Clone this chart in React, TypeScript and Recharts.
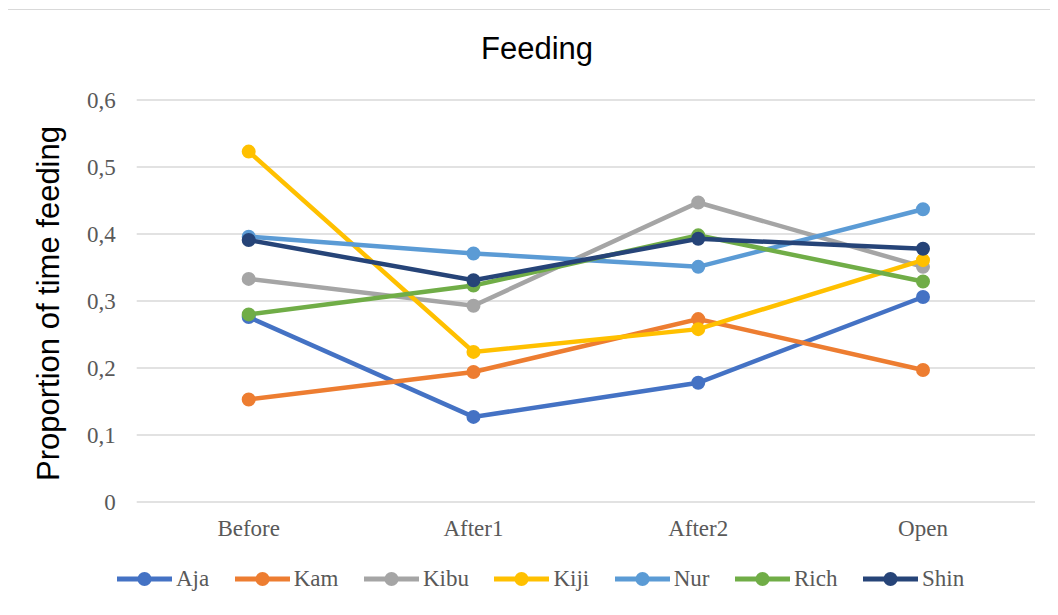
import { LineChart, Line, XAxis, YAxis, CartesianGrid } from 'recharts'

// categories on the x axis
const phases = ['Before', 'After1', 'After2', 'Open']

// proportion of time feeding, one list per individual
const aja = [0.276, 0.127, 0.178, 0.306]
const kam = [0.153, 0.194, 0.273, 0.197]
const kibu = [0.333, 0.293, 0.447, 0.351]
const kiji = [0.523, 0.224, 0.258, 0.361]
const nur = [0.396, 0.371, 0.351, 0.437]
const rich = [0.280, 0.323, 0.398, 0.329]
const shin = [0.391, 0.331, 0.393, 0.378]

const yTicks = [0, 0.1, 0.2, 0.3, 0.4, 0.5, 0.6]

const series = [
  { key: 'Aja', values: aja, color: '#4472C4' },
  { key: 'Kam', values: kam, color: '#ED7D31' },
  { key: 'Kibu', values: kibu, color: '#A5A5A5' },
  { key: 'Kiji', values: kiji, color: '#FFC000' },
  { key: 'Nur', values: nur, color: '#5B9BD5' },
  { key: 'Rich', values: rich, color: '#70AD47' },
  { key: 'Shin', values: shin, color: '#264478' },
]

const data = phases.map((phase, i) => {
  const row: { [k: string]: string | number } = { phase }
  series.forEach((s) => {
    row[s.key] = s.values[i]
  })
  return row
})

const fmt = (v: number) => (v === 0 ? '0' : v.toFixed(1).replace('.', ','))

const serif = '"Liberation Serif", "Times New Roman", serif'
const sans = '"Liberation Sans", Arial, sans-serif'

export default function App() {
  return (
    <div
      style={{
        position: 'relative',
        left: -1,
        top: 1,
        width: 1050,
        height: 605,
        borderTop: '1px solid #d9d9d9',
        borderLeft: '1px solid #d9d9d9',
      }}
    >
      <div
        style={{
          position: 'absolute',
          left: 329,
          top: 23,
          width: 400,
          textAlign: 'center',
          fontFamily: sans,
          fontSize: 31,
          lineHeight: '31px',
          color: '#000',
        }}
      >
        Feeding
      </div>

      <LineChart
        width={1050}
        height={605}
        data={data}
        margin={{ top: 90, right: 23, left: 0, bottom: 73 }}
      >
        <CartesianGrid vertical={false} stroke="#d9d9d9" strokeWidth={1.5} />
        <XAxis
          dataKey="phase"
          height={40}
          padding={{ left: 112, right: 112 }}
          axisLine={false}
          tickLine={false}
          tickSize={0}
          tickMargin={18}
          tick={{ fontFamily: serif, fontSize: 23, fill: '#595959' }}
        />
        <YAxis
          width={128.7}
          domain={[0, 0.6]}
          ticks={yTicks}
          tickFormatter={fmt}
          axisLine={false}
          tickLine={false}
          tickSize={0}
          tickMargin={21}
          tick={{ fontFamily: serif, fontSize: 23, fill: '#595959' }}
          label={{
            content: () => (
              <text
                x={40}
                y={293.5}
                transform="rotate(-90 40 293.5)"
                textAnchor="middle"
                dominantBaseline="central"
                fontFamily={sans}
                fontSize={31}
                fill="#000"
              >
                Proportion of time feeding
              </text>
            ),
          }}
        />
        {series.map((s) => (
          <Line
            key={s.key}
            dataKey={s.key}
            stroke={s.color}
            strokeWidth={4.5}
            dot={{ r: 6, fill: s.color, stroke: s.color, strokeWidth: 2 }}
            activeDot={false}
            isAnimationActive={false}
          />
        ))}
      </LineChart>

      <div
        style={{
          position: 'absolute',
          left: 109,
          top: 555,
          height: 28,
          display: 'flex',
          alignItems: 'center',
          fontFamily: serif,
          fontSize: 23,
          color: '#595959',
        }}
      >
        {series.map((s) => (
          <div key={s.key} style={{ display: 'flex', alignItems: 'center', marginRight: 25.5 }}>
            <svg width={55} height={16} style={{ marginRight: 4 }}>
              <line x1={0} y1={8} x2={55} y2={8} stroke={s.color} strokeWidth={5} />
              <circle cx={27.5} cy={8} r={7} fill={s.color} />
            </svg>
            <span>{s.key}</span>
          </div>
        ))}
      </div>
    </div>
  )
}
